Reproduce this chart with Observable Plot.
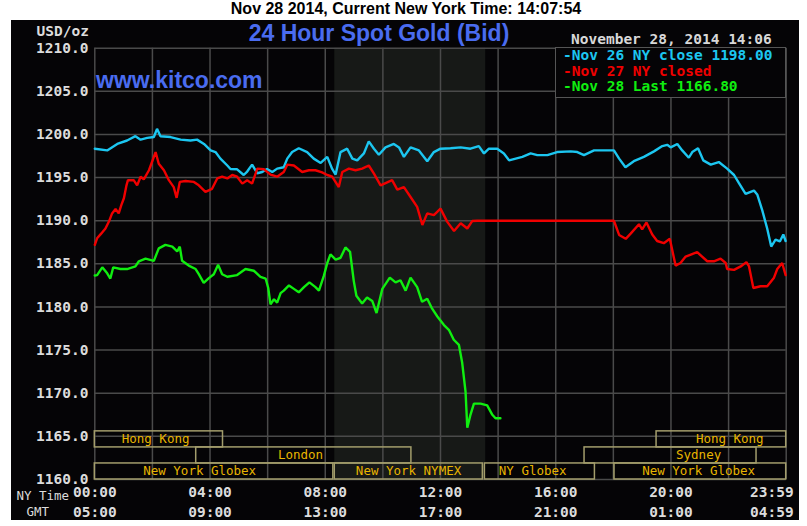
<!DOCTYPE html>
<html>
<head>
<meta charset="utf-8">
<script src="https://cdn.jsdelivr.net/npm/d3@7"></script>
<script src="https://cdn.jsdelivr.net/npm/@observablehq/plot@0.6"></script>
<style>
  body { margin: 0; background: #fff; }
  #wrap { position: relative; width: 807px; height: 526px; overflow: hidden; background: #fff; }
  #title { position: absolute; left: 0; top: 0; width: 812px; height: 20px; line-height: 20px; text-align: center;
           font: bold 16px "Liberation Sans", Arial, sans-serif; color: #000; }
  #chart { position: absolute; left: 11px; top: 20px; }
  .mono { position: absolute; font-family: "DejaVu Sans Mono", monospace; font-weight: bold; font-size: 14.5px;
          line-height: 18px; white-space: pre; }
  .blue { position: absolute; font: bold 23px "Liberation Sans", Arial, sans-serif; color: #4a6cf0;
          line-height: 26px; white-space: pre; }
  #legend { position: absolute; left: 555px; top: 47px; width: 231px; height: 50.5px; box-sizing: border-box;
            border: 1.5px solid #555; background: #050406; padding-left: 7px;
            font-family: "DejaVu Sans Mono", monospace; font-weight: bold; font-size: 14.5px; line-height: 15.7px; white-space: pre; }
</style>
</head>
<body>
<div id="wrap">
  <div id="title">Nov 28 2014, Current New York Time: 14:07:54</div>
  <div id="chart"></div>
  <div class="mono" style="right:718px; top:22px; color:#dcdcdc;">USD/oz</div>
  <div class="blue" style="left:179px; width:400px; text-align:center; top:19.5px;">24 Hour Spot Gold (Bid)</div>
  <div class="blue" style="left:96px; top:67px;">www.kitco.com</div>
  <div class="mono" style="left:571px; top:30px; color:#d8d8d8;">November 28, 2014 14:06</div>
  <div id="legend"></div>
</div>
<script>
// ---------- data ----------
const seriesLabels = ["Nov 26 NY close 1198.00", "Nov 27 NY closed", "Nov 28 Last 1166.80"];
const seriesColors = ["#1cc6f0", "#f00000", "#10ee10"];

// [hour of NY day, price]
const nov26Close = [[0,1198.35],[0.43,1198.15],[0.78,1198.9],[1.12,1199.3],[1.41,1199.8],[1.59,1199.4],[1.82,1199.6],[2.05,1199.7],[2.16,1200.65],[2.28,1199.8],[2.63,1199.7],[2.98,1199.4],[3.32,1199.3],[3.55,1199.4],[3.79,1198.9],[4.02,1198.15],[4.19,1197.96],[4.36,1197.2],[4.6,1196.4],[4.71,1196.0],[4.94,1195.96],[5.17,1195.3],[5.29,1195.7],[5.46,1196.5],[5.64,1195.5],[5.81,1195.65],[5.98,1196.0],
  [6.16,1195.65],[6.33,1196.04],[6.56,1196.2],[6.68,1197.2],[6.85,1197.96],[7.08,1198.4],[7.37,1197.96],[7.6,1197.2],[7.84,1196.7],[8.07,1197.4],[8.24,1196.0],[8.36,1195.35],[8.53,1197.96],[8.76,1198.35],[8.94,1197.2],[9.11,1197.0],[9.34,1197.8],[9.51,1199.2],[9.69,1198.35],[9.86,1197.65],[10.09,1198.5],[10.38,1198.9],[10.56,1198.5],[10.73,1197.4],[10.96,1198.5],[11.25,1198.15],[11.54,1196.9],[11.77,1197.96],[12.0,1198.35],
  [12.35,1198.4],[12.7,1198.5],[13.04,1198.35],[13.33,1198.65],[13.51,1197.8],[13.68,1198.35],[13.97,1198.35],[14.2,1197.8],[14.38,1197.0],[14.61,1197.2],[14.84,1197.4],[15.13,1197.8],[15.36,1197.6],[15.71,1197.6],[16.05,1197.96],[16.52,1198.04],[16.75,1197.96],[16.98,1197.6],[17.33,1198.15],[18.02,1198.15],
  [18.2,1197.2],[18.42,1196.2],[18.71,1196.9],[19.06,1197.4],[19.41,1198.04],[19.7,1198.65],[19.87,1198.8],[19.99,1198.5],[20.22,1198.9],[20.39,1198.15],[20.62,1197.3],[20.74,1197.96],[20.94,1198.4],[21.12,1197.0],[21.38,1196.5],[21.66,1196.8],[21.95,1196.04],[22.19,1195.3],[22.36,1194.35],[22.59,1193.1],[22.88,1193.5],[23.0,1193.0],[23.17,1191.2],[23.34,1189.1],[23.48,1187.0],[23.63,1187.8],[23.78,1187.6],[23.9,1188.4],[23.98,1187.65]];

const nov27Closed = [[0,1187.2],[0.08,1187.96],[0.22,1188.5],[0.37,1189.1],[0.49,1189.9],[0.6,1190.85],[0.72,1191.35],[0.83,1190.85],[0.92,1191.8],[1.01,1192.6],[1.1,1194.1],[1.15,1194.7],[1.35,1194.7],[1.47,1194.1],[1.59,1195.1],[1.7,1194.8],[1.88,1195.85],[2.11,1197.96],[2.22,1196.6],[2.4,1195.85],[2.57,1194.7],[2.74,1193.9],[2.84,1192.65],[2.95,1194.5],[3.15,1194.6],[3.44,1194.5],[3.61,1194.1],[3.84,1193.35],[4.07,1193.7],[4.25,1194.9],[4.42,1195.1],[4.6,1194.9],[4.77,1195.3],[4.94,1195.1],[5.12,1194.3],[5.29,1194.7],[5.46,1194.3],[5.64,1196.04],[5.87,1195.96],
  [6.1,1195.35],[6.33,1195.1],[6.56,1195.65],[6.68,1196.5],[6.91,1196.4],[7.2,1195.65],[7.43,1195.85],[7.66,1195.85],[7.89,1195.6],[8.07,1195.3],[8.24,1195.1],[8.47,1193.9],[8.59,1195.65],[8.82,1196.04],[9.05,1195.85],[9.28,1196.04],[9.51,1196.4],[9.69,1195.45],[9.92,1194.1],[10.15,1194.45],[10.32,1194.7],[10.5,1193.6],[10.73,1193.9],[10.96,1192.75],[11.19,1191.6],[11.37,1189.5],[11.54,1190.85],[11.77,1190.65],[12.0,1191.4],[12.23,1189.9],[12.47,1188.8],[12.7,1189.7],[12.93,1189.1],[13.1,1189.96],[13.28,1190.0],[18.02,1190.0],
  [18.2,1188.35],[18.43,1187.9],[18.6,1188.5],[18.89,1189.6],[19.0,1189.0],[19.15,1189.8],[19.35,1188.4],[19.52,1187.65],[19.75,1187.4],[19.96,1187.9],[20.16,1184.8],[20.33,1185.1],[20.51,1185.85],[20.91,1186.35],[21.26,1185.3],[21.49,1185.3],[21.72,1185.6],[21.9,1185.1],[21.95,1184.4],[22.19,1184.3],[22.42,1184.7],[22.62,1185.2],[22.71,1184.7],[22.86,1182.2],[23.11,1182.4],[23.34,1182.4],[23.57,1183.35],[23.69,1184.4],[23.86,1185.1],[23.98,1183.7]];

const nov28Last = [[0,1183.65],[0.08,1183.7],[0.26,1184.6],[0.43,1183.9],[0.54,1183.3],[0.64,1184.6],[0.89,1184.4],[1.12,1184.4],[1.41,1184.7],[1.53,1185.3],[1.76,1185.6],[2.05,1185.35],[2.22,1186.8],[2.45,1187.2],[2.69,1187.0],[2.86,1186.45],[2.95,1187.0],[3.03,1185.35],[3.26,1184.8],[3.5,1184.4],[3.61,1183.8],[3.78,1182.8],[3.96,1183.35],[4.13,1183.8],[4.28,1184.9],[4.42,1183.8],[4.6,1183.5],[4.94,1183.7],[5.23,1184.4],[5.52,1184.2],[5.75,1183.5],[5.93,1183.3],[6.02,1182.2],[6.1,1180.3],[6.22,1180.9],[6.33,1180.5],[6.45,1181.6],[6.56,1181.9],[6.74,1182.5],[6.91,1182.1],[7.08,1181.7],[7.26,1182.3],[7.45,1182.85],[7.66,1182.3],[7.78,1181.9],[7.95,1183.6],[8.07,1185.1],[8.18,1186.1],[8.36,1185.5],[8.53,1185.7],[8.7,1186.9],[8.86,1186.4],[8.99,1183.0],[9.08,1181.3],[9.28,1180.4],[9.45,1181.1],[9.63,1180.7],[9.78,1179.3],[9.98,1182.1],[10.24,1183.4],[10.44,1182.85],[10.61,1183.1],[10.79,1181.9],[10.96,1183.4],[11.19,1182.3],[11.36,1180.6],[11.54,1180.95],[11.71,1179.8],[11.89,1178.9],[12.12,1177.9],[12.29,1177.35],[12.46,1176.2],[12.64,1175.6],[12.75,1173.6],[12.87,1170.15],[12.93,1166.0],[13.04,1167.5],[13.16,1168.8],[13.39,1168.8],[13.62,1168.6],[13.8,1167.5],[13.91,1167.1],[14.08,1167.1]];

const priceTicks = [1160, 1165, 1170, 1175, 1180, 1185, 1190, 1195, 1200, 1205, 1210];
const gridHours = [0, 2, 4, 6, 8, 10, 12, 14, 16, 18, 20, 22, 24];
const tickHours = [0, 4, 8, 12, 16, 20, 23.983];
const nyTimeLabels = ["00:00", "04:00", "08:00", "12:00", "16:00", "20:00", "23:59"];
const gmtLabels = ["05:00", "09:00", "13:00", "17:00", "21:00", "01:00", "04:59"];
const rowTitles = ["NY Time", "GMT"];

const pitSession = [{start: 8.33, end: 13.57}];
const sessionNames = ["Hong Kong", "Hong Kong", "London", "Sydney", "New York Globex", "New York NYMEX", "NY Globex", "New York Globex"];
const sessionRows  = [0, 0, 1, 1, 2, 2, 2, 2];
const sessionStart = [0, 19.5, 3.52, 17.0, 0, 8.33, 13.54, 18.04];
const sessionEnd   = [4.45, 24, 10.99, 22.97, 8.28, 13.47, 17.36, 24];
const sessionLabelAt = [2.11, 22.04, 7.14, 20.96, 3.64, 10.89, 15.2, 20.96];

// ---------- build ----------
const sessions = sessionNames.map((name, i) => ({name, row: sessionRows[i], start: sessionStart[i], end: sessionEnd[i], labelAt: sessionLabelAt[i]}));
const ticks = tickHours.map((h, i) => ({h, ny: nyTimeLabels[i], gmt: gmtLabels[i]}));
const ROW_H = 1.86;
const rowBase = r => 1160 + (2 - r) * ROW_H;

const gridColor = "#4a4a4a";
const axisText = "#dcdcdc";
const mono = "DejaVu Sans Mono, monospace";
const tickStyle = {fill: axisText, fontSize: 14.5, fontWeight: "bold", fontFamily: mono, lineAnchor: "middle"};

const lineMark = (data, color) => Plot.line(data, {x: d => d[0], y: d => d[1], stroke: color, strokeWidth: 2.4, strokeLinejoin: "miter"});

const chart = Plot.plot({
  width: 788,
  height: 500,
  marginLeft: 83.3,
  marginRight: 13.3,
  marginTop: 27.7,
  marginBottom: 41,
  style: {background: "#050406", fontFamily: mono, overflow: "visible"},
  x: {domain: [0, 24], axis: null},
  y: {domain: [1160, 1210], axis: null},
  marks: [
    Plot.rect(pitSession, {x1: "start", x2: "end", fill: "#171917"}),
    Plot.ruleX(gridHours, {stroke: gridColor, strokeWidth: 1.5}),
    Plot.ruleY(priceTicks, {stroke: gridColor, strokeWidth: 1.5}),
    Plot.rect(sessions, {x1: "start", x2: "end", y1: d => rowBase(d.row), y2: d => rowBase(d.row) + ROW_H,
      fill: "none", stroke: "#a39d6c", strokeWidth: 1.5}),
    Plot.text(sessions, {x: "labelAt", y: d => rowBase(d.row) + ROW_H / 2, text: "name",
      fill: "#e8b400", fontSize: 12.5, fontFamily: mono}),
    lineMark(nov26Close, seriesColors[0]),
    lineMark(nov27Closed, seriesColors[1]),
    lineMark(nov28Last, seriesColors[2]),
    Plot.text(priceTicks, {y: d => d, text: d => d.toFixed(1), frameAnchor: "left", textAnchor: "end", dx: -6.3, ...tickStyle}),
    Plot.text(ticks.slice(0, -1), {x: "h", text: "ny", frameAnchor: "bottom", textAnchor: "middle", dy: 13, ...tickStyle}),
    Plot.text(ticks.slice(0, -1), {x: "h", text: "gmt", frameAnchor: "bottom", textAnchor: "middle", dy: 33, ...tickStyle}),
    Plot.text(ticks.slice(-1), {x: "h", text: "ny", frameAnchor: "bottom", dy: 13, dx: 8, textAnchor: "end", ...tickStyle}),
    Plot.text(ticks.slice(-1), {x: "h", text: "gmt", frameAnchor: "bottom", dy: 33, dx: 8, textAnchor: "end", ...tickStyle}),
    Plot.text(rowTitles.slice(0, 1), {text: d => d, frameAnchor: "bottom-left", textAnchor: "middle", lineAnchor: "middle",
      dx: -52, dy: 16, fill: axisText, fontSize: 12.5, fontFamily: mono}),
    Plot.text(rowTitles.slice(1), {text: d => d, frameAnchor: "bottom-left", textAnchor: "middle", lineAnchor: "middle",
      dx: -57, dy: 32, fill: axisText, fontSize: 12.5, fontFamily: mono})
  ]
});
document.getElementById("chart").appendChild(chart);

const legend = document.getElementById("legend");
seriesLabels.forEach((label, i) => {
  const row = document.createElement("div");
  row.style.color = seriesColors[i];
  row.textContent = "-" + label;
  legend.appendChild(row);
});
</script>
</body>
</html>
